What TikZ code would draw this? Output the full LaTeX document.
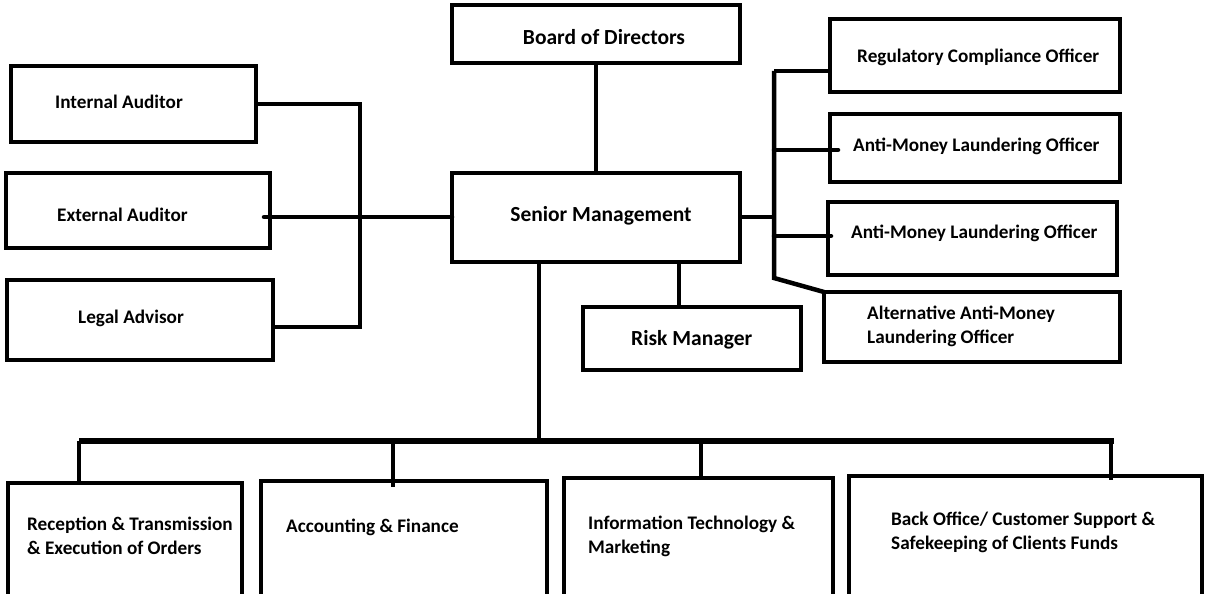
\documentclass[tikz,border=0pt]{standalone}
\usepackage{fontspec}
\setmainfont{Carlito}
\usetikzlibrary{calc}
\begin{document}
\begin{tikzpicture}[x=1pt,y=-1pt,
  box/.style={draw, line width=4.5pt, inner sep=0pt, outer sep=0pt, anchor=north west},
  big/.style={font=\fontsize{21.5}{26}\selectfont\bfseries, inner sep=0pt},
  small/.style={font=\fontsize{19.2}{24}\selectfont\bfseries, inner sep=0pt, align=left, anchor=west},
  conn/.style={line width=4.5pt},
  bar/.style={line width=6pt}]
\useasboundingbox (0,0) rectangle (1205,594);
% boxes
\node[box, minimum width=288pt, minimum height=58pt] (bod) at (452,5) {};
\node[box, minimum width=288pt, minimum height=89pt] (sm) at (452,173) {};
\node[box, minimum width=245pt, minimum height=76pt] (ia) at (11,66) {};
\node[box, minimum width=264pt, minimum height=75pt] (ea) at (6,173) {};
\node[box, minimum width=266pt, minimum height=80pt] (la) at (7,280) {};
\node[box, minimum width=218pt, minimum height=63pt] (rm) at (583,307) {};
\node[box, minimum width=290pt, minimum height=73pt] (rco) at (830,19) {};
\node[box, minimum width=290pt, minimum height=68pt] (aml1) at (830,114) {};
\node[box, minimum width=289pt, minimum height=73pt] (aml2) at (828,202) {};
\node[box, minimum width=296pt, minimum height=70pt] (alt) at (824,292) {};
\node[box, minimum width=234pt, minimum height=125pt] (rec) at (8,483) {};
\node[box, minimum width=286pt, minimum height=127pt] (acc) at (261,481) {};
\node[box, minimum width=269pt, minimum height=130pt] (it) at (564,478) {};
\node[box, minimum width=353pt, minimum height=132pt] (bo) at (849,476) {};
% texts
\node[big] (tbod) at (604,37) {Board of Directors};
\node[big] (tsm) at (601,216) {Senior Management};
\node[big, anchor=west] (trm) at (631,340) {Risk Manager};
\node[small] (tia) at (55,102) {Internal Auditor};
\node[small] (tea) at (57,215) {External Auditor};
\node[small] (tla) at (78,318) {Legal Advisor};
\node[small] (trco) at (857,57) {Regulatory Compliance Officer};
\node[small] (taml1) at (853,146) {Anti-Money Laundering Officer};
\node[small] (taml2) at (851,233) {Anti-Money Laundering Officer};
\node[small] (talt) at (867,326.5) {Alternative Anti-Money\\Laundering Officer};
\node[small] (trec) at (27,536) {Reception \& Transmission\\\& Execution of Orders};
\node[small] (tacc) at (286,527) {Accounting \& Finance};
\node[small] (tit) at (588,536) {Information Technology \&\\Marketing};
\node[small] (tbo) at (891,532.5) {Back Office/ Customer Support \&\\Safekeeping of Clients Funds};
% junction coordinates
\coordinate (lj1) at (360,104);
\coordinate (lj2) at (360,327);
\coordinate (ea1) at (264,217);
\coordinate (rj0) at (774,217);
\coordinate (rj1) at (774,71);
\coordinate (rj2) at (774,150);
\coordinate (rj3) at (774,236);
\coordinate (rj4) at (774,278);
\coordinate (rmj) at (679,262);
\coordinate (cj) at (539,441);
\coordinate (b1) at (79,441);
\coordinate (b2) at (393,441);
\coordinate (b3) at (701,441);
\coordinate (b4) at (1114,441);
\coordinate (b4d) at (1111,441);
% connectors
\draw[conn] (bod.south) -- (sm.north);
\draw[conn] (ia.east |- lj1) -- (lj1) -- (lj2) -- (la.east |- lj2);
\draw[conn, line cap=round] (ea1) -- (sm.west |- ea1);
\draw[conn] (sm.east |- rj0) -- (rj0);
\draw[conn] (rj1) -- (rj4) -- (alt.north west);
\draw[conn] (rj1) -- (rco.west |- rj1);
\draw[conn, line cap=round] (rj2) -- ($(aml1.west |- rj2)+(8,0)$);
\draw[conn, line cap=round] (rj3) -- ($(aml2.west |- rj3)+(3,0)$);
\draw[conn] (rmj) -- (rm.north -| rmj);
\draw[conn] (sm.south -| cj) -- (cj);
\draw[bar] (b1) -- (b4);
\draw[conn] (b1) -- (rec.north -| b1);
\draw[conn] (b2) -- ($(acc.north -| b2)+(0,6)$);
\draw[conn] (b3) -- (it.north -| b3);
\draw[conn] (b4d) -- ($(bo.north -| b4d)+(0,4)$);
\end{tikzpicture}
\end{document}
